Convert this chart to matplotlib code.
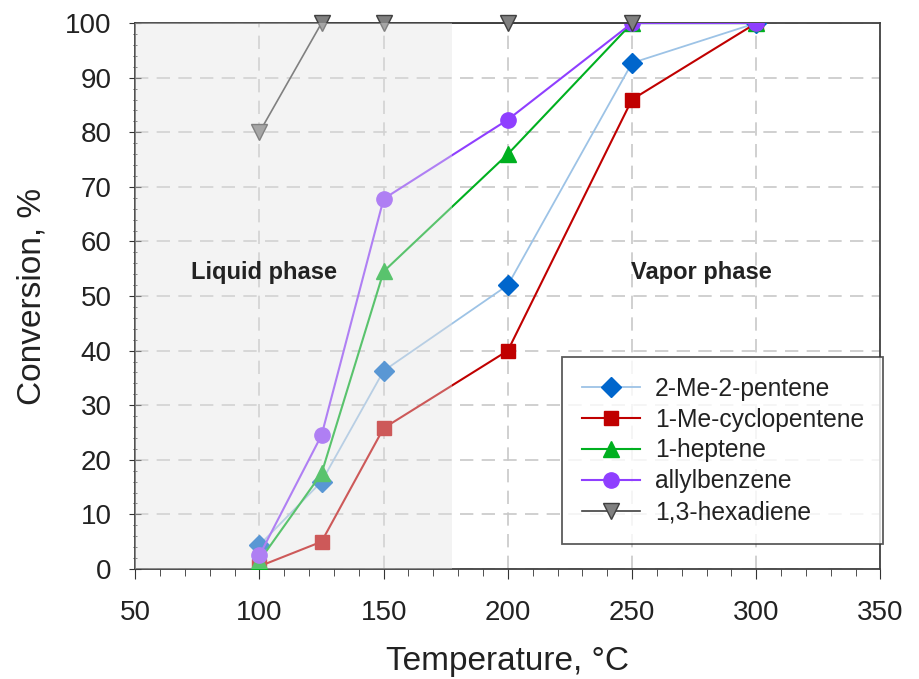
import matplotlib
matplotlib.use("Agg")
import matplotlib.pyplot as plt
from matplotlib.ticker import MultipleLocator
from matplotlib.patches import Rectangle

plt.rcParams['font.family'] = ['Liberation Sans', 'DejaVu Sans']

temps = [100, 125, 150, 200, 250, 300]
me_pentene = [4.4, 16.0, 36.3, 52.0, 92.7, 100.0]
me_cyclopentene = [0.5, 5.0, 25.8, 40.0, 86.0, 100.0]
heptene = [1.5, 17.5, 54.5, 76.0, 100.0, 100.0]
allylbenzene = [2.5, 24.5, 67.8, 82.3, 100.0, 100.0]
hexadiene_temps = [100, 125, 150, 200, 250]
hexadiene = [80.0, 100.0, 100.0, 100.0, 100.0]

liquid_limit = 177.5

fig = plt.figure(figsize=(9.2, 6.79), dpi=100)
ax = fig.add_axes([0.147, 0.162, 0.81, 0.804])

ax.plot(temps, me_pentene, color='#9dc3e6', lw=1.3, marker='D', ms=10,
        mfc='#0066cc', mec='#0066cc', label='2-Me-2-pentene', zorder=3)
ax.plot(temps, me_cyclopentene, color='#c00000', lw=1.5, marker='s', ms=10,
        mfc='#c00000', mec='#c00000', label='1-Me-cyclopentene', zorder=3)
ax.plot(temps, heptene, color='#00b020', lw=1.5, marker='^', ms=11,
        mfc='#00b020', mec='#00b020', label='1-heptene', zorder=3)
ax.plot(temps, allylbenzene, color='#8f3fff', lw=1.5, marker='o', ms=11,
        mfc='#8f3fff', mec='#8f3fff', label='allylbenzene', zorder=3)
ax.plot(hexadiene_temps, hexadiene, color='#404040', lw=1.2, marker='v', ms=11,
        mfc='#808080', mec='#404040', label='1,3-hexadiene', zorder=3, clip_on=False)

# translucent band marking the liquid-phase region
ax.add_patch(Rectangle((50, 0), liquid_limit - 50, 100, facecolor='#e1e1e1',
                       alpha=0.4, edgecolor='none', zorder=4))

ax.text(102, 54.4, 'Liquid phase', ha='center', va='center', fontsize=17,
        fontweight='bold', color='#222222', zorder=5)
ax.text(278, 54.4, 'Vapor phase', ha='center', va='center', fontsize=17,
        fontweight='bold', color='#222222', zorder=5)

ax.set_xlim(50, 350)
ax.set_ylim(0, 100)
ax.xaxis.set_major_locator(MultipleLocator(50))
ax.xaxis.set_minor_locator(MultipleLocator(10))
ax.yaxis.set_major_locator(MultipleLocator(10))
ax.yaxis.set_minor_locator(MultipleLocator(2))
ax.tick_params(axis='both', which='major', labelsize=20, color='#333333',
               labelcolor='#222222')
ax.tick_params(axis='x', which='major', direction='out', length=7, pad=15)
ax.tick_params(axis='x', which='minor', direction='out', length=5, color='#333333')
ax.tick_params(axis='y', which='major', direction='inout', length=8, pad=13)
ax.tick_params(axis='y', which='minor', direction='inout', length=3.5, color='#333333')

ax.grid(True, which='major', color='#c8c8c8', linestyle=(0, (8, 5)), lw=1.2, zorder=0)
ax.set_axisbelow(True)
for s in ax.spines.values():
    s.set_color('#404040')
    s.set_linewidth(1.3)

ax.set_xlabel('Temperature, \u00b0C', fontsize=24, color='#222222', labelpad=15)
ax.set_ylabel('Conversion, %', fontsize=24, color='#222222', labelpad=13)

leg = ax.legend(loc='lower right', fontsize=17.7, frameon=True, fancybox=False,
                edgecolor='#333333', handlelength=2.35, handletextpad=0.6,
                borderpad=0.8, labelspacing=0.28, borderaxespad=0,
                bbox_to_anchor=(1.004, 0.046))
leg.get_frame().set_linewidth(1.3)
for t in leg.get_texts():
    t.set_color('#222222')
leg.set_zorder(6)

fig.savefig('out.png', dpi=100)
